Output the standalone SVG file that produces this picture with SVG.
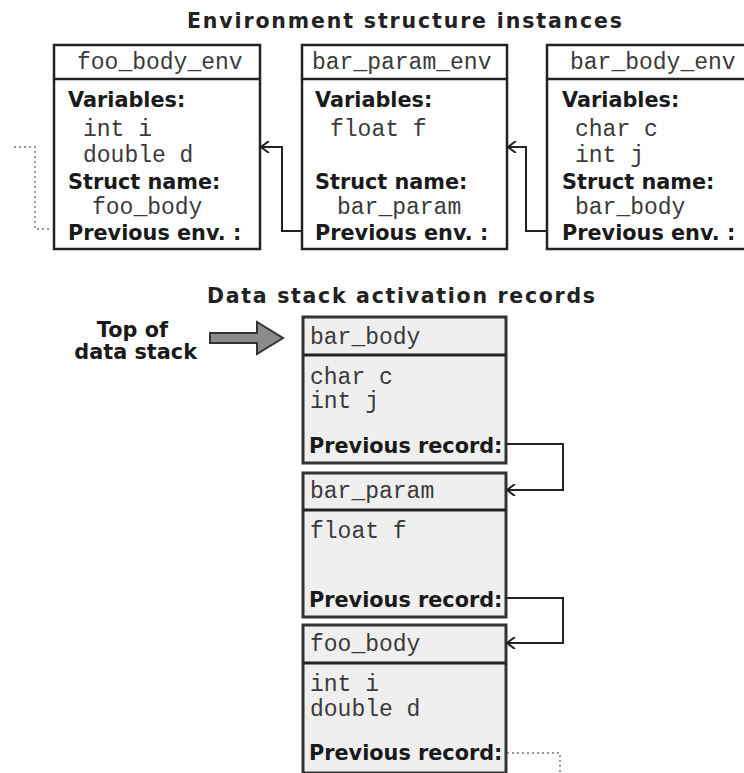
<svg xmlns="http://www.w3.org/2000/svg" width="744" height="773" viewBox="0 0 744 773">
<style>
.title{font-family:"DejaVu Sans",Verdana,sans-serif;font-weight:bold;font-size:20.5px;fill:#222}
.b{font-family:"DejaVu Sans",Verdana,sans-serif;font-weight:bold;font-size:20.8px;fill:#1a1a1a}
.m{font-family:"Liberation Mono","Courier New",monospace;font-size:23px;fill:#3a3a3a}
.env{fill:#fff;stroke:#222;stroke-width:2.5}
.rec{fill:#efefef;stroke:#333;stroke-width:3}
.conn{fill:none;stroke:#222;stroke-width:2}
.dot{fill:none;stroke:#777;stroke-width:1.5;stroke-dasharray:2 3}
</style>
<defs>
<marker id="open" viewBox="0 0 10 12" refX="9" refY="6" markerWidth="10" markerHeight="12" markerUnits="userSpaceOnUse" orient="auto">
<path d="M1,0 L9,6 L1,12" fill="none" stroke="#222" stroke-width="2"/>
</marker>
</defs>

<text class="title" x="187" y="28" textLength="435" lengthAdjust="spacing">Environment structure instances</text>
<text class="title" x="207" y="303" textLength="388" lengthAdjust="spacing">Data stack activation records</text>

<g id="foo_body_env">
<rect class="env" x="54" y="45" width="206" height="204"/>
<line x1="54" y1="79" x2="260" y2="79" stroke="#222" stroke-width="2.5"/>
<text class="m" x="77" y="69">foo_body_env</text>
<text class="b" x="68" y="107">Variables:</text>
<text class="m" x="83" y="136">int i</text>
<text class="m" x="83" y="162">double d</text>
<text class="b" x="68" y="189">Struct name:</text>
<text class="m" x="92" y="214">foo_body</text>
<text class="b" x="68" y="240">Previous env. :</text>
</g>

<g id="bar_param_env">
<rect class="env" x="302" y="45" width="205" height="204"/>
<line x1="302" y1="79" x2="507" y2="79" stroke="#222" stroke-width="2.5"/>
<text class="m" x="312" y="69">bar_param_env</text>
<text class="b" x="315" y="107">Variables:</text>
<text class="m" x="330" y="136">float f</text>
<text class="b" x="315" y="189">Struct name:</text>
<text class="m" x="337" y="214">bar_param</text>
<text class="b" x="315" y="240">Previous env. :</text>
</g>

<g id="bar_body_env">
<rect class="env" x="547" y="45" width="210" height="204"/>
<line x1="547" y1="79" x2="757" y2="79" stroke="#222" stroke-width="2.5"/>
<text class="m" x="570" y="69">bar_body_env</text>
<text class="b" x="562" y="107">Variables:</text>
<text class="m" x="575" y="136">char c</text>
<text class="m" x="575" y="162">int j</text>
<text class="b" x="562" y="189">Struct name:</text>
<text class="m" x="575" y="214">bar_body</text>
<text class="b" x="562" y="240">Previous env. :</text>
</g>

<g id="top_label">
<text class="b" x="168" y="337" text-anchor="end">Top of</text>
<text class="b" x="197" y="359" text-anchor="end">data stack</text>
<path d="M210,333 L257,333 L257,322 L283,338 L257,354 L257,343 L210,343 Z" fill="#8a8a8a" stroke="#333" stroke-width="2" stroke-linejoin="miter"/>
</g>

<g id="rec_bar_body">
<rect class="rec" x="303" y="317" width="203" height="146"/>
<line x1="303" y1="355" x2="506" y2="355" stroke="#222" stroke-width="3"/>
<text class="m" x="310" y="344">bar_body</text>
<text class="m" x="310" y="384">char c</text>
<text class="m" x="310" y="408">int j</text>
<text class="b" x="309" y="453">Previous record:</text>
</g>

<g id="rec_bar_param">
<rect class="rec" x="303" y="473" width="203" height="144"/>
<line x1="303" y1="510" x2="506" y2="510" stroke="#222" stroke-width="3"/>
<text class="m" x="310" y="498">bar_param</text>
<text class="m" x="310" y="538">float f</text>
<text class="b" x="309" y="607">Previous record:</text>
</g>

<g id="rec_foo_body">
<rect class="rec" x="303" y="625" width="203" height="148"/>
<line x1="303" y1="663" x2="506" y2="663" stroke="#222" stroke-width="3"/>
<text class="m" x="310" y="651">foo_body</text>
<text class="m" x="310" y="691">int i</text>
<text class="m" x="310" y="716">double d</text>
<text class="b" x="309" y="760">Previous record:</text>
</g>

<g id="connectors">
<path class="conn" d="M302,231 L282,231 L282,147 L261,147" marker-end="url(#open)"/>
<path class="conn" d="M547,231 L526,231 L526,147 L508,147" marker-end="url(#open)"/>
<path class="dot" d="M49,229 L35,229 L35,147 L12,147"/>
<path class="conn" d="M506,444 L563,444 L563,490 L507,490" marker-end="url(#open)"/>
<path class="conn" d="M506,598 L563,598 L563,643 L507,643" marker-end="url(#open)"/>
<path class="dot" d="M507,753 L560,753 L560,773"/>
</g>
</svg>
